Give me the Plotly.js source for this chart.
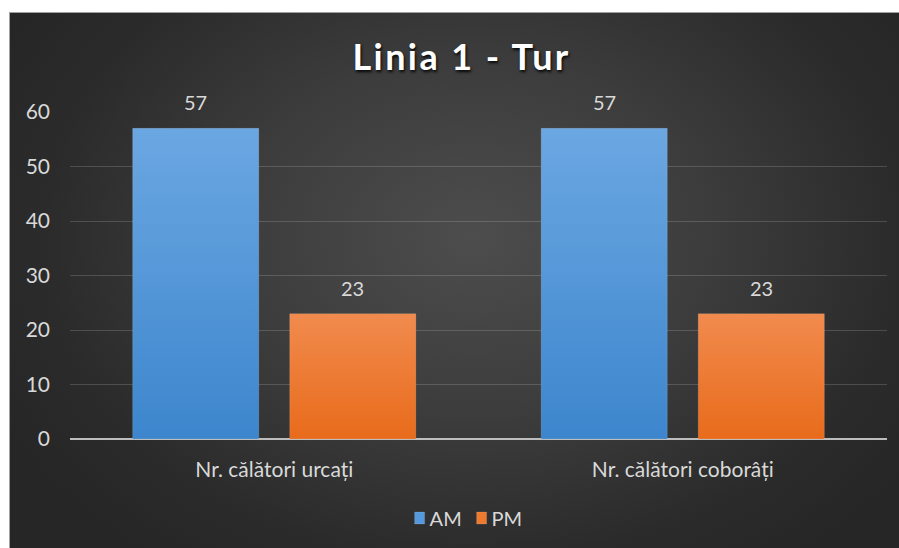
<!DOCTYPE html>
<html>
<head>
<meta charset="utf-8">
<script src="https://cdn.plot.ly/plotly-3.0.1.min.js"></script>
<style>
  html, body { margin: 0; padding: 0; background: #ffffff; width: 899px; height: 548px; overflow: hidden; }
  #frame {
    position: absolute; left: 9px; top: 12px; width: 890px; height: 536px;
    background: #a0a0a0;
  }
  #chart {
    position: absolute; left: 1px; top: 1px; width: 889px; height: 535px;
    background: radial-gradient(ellipse 60% 75% at 52% 42%, #4d4d4d 0%, #3c3c3c 45%, #2b2b2b 80%, #262626 100%);
  }
  .gtitle { letter-spacing: 2.4px; }
</style>
</head>
<body>
<div id="frame"><div id="chart"></div></div>
<script>
// ---- data ----
const categories = ["Nr. călători urcați", "Nr. călători coborâți"];
const seriesNames = ["AM", "PM"];
const amValues = [57, 57];
const pmValues = [23, 23];
const yTicks = [0, 10, 20, 30, 40, 50, 60];
const titleText = "Linia 1 - Tur";

// ---- styling ----
const FONT = "Lato, 'Open Sans', sans-serif";
const txt = "#d9d9d9";
const bargap = 0.231;
const bargroupgap = 0.197;

const traces = [
  { type: "bar", name: seriesNames[0], x: [0, 1], y: amValues,
    marker: { color: "#5599dc", line: { color: "rgba(255,255,255,0.12)", width: 1 } },
    hoverinfo: "skip" },
  { type: "bar", name: seriesNames[1], x: [0, 1], y: pmValues,
    marker: { color: "#ee7a2f", line: { color: "rgba(255,255,255,0.12)", width: 1 } },
    hoverinfo: "skip" }
];

// data labels above bars, positioned from the same values
const slot = (1 - bargap) / 2;
const annotations = [];
[amValues, pmValues].forEach((vals, si) => {
  vals.forEach((v, ci) => {
    annotations.push({
      x: ci + (si - 0.5) * slot, y: v, xref: "x", yref: "y",
      text: String(v), showarrow: false, yanchor: "middle", yshift: 26,
      font: { family: FONT, size: 20, color: txt }
    });
  });
});

const layout = {
  width: 889, height: 535,
  paper_bgcolor: "rgba(0,0,0,0)",
  plot_bgcolor: "rgba(0,0,0,0)",
  margin: { l: 60, r: 12, t: 99, b: 109 },
  font: { family: FONT, color: txt, size: 20 },
  title: {
    text: "<b>" + titleText + "</b>",
    font: { family: FONT, size: 36, color: "#ffffff", shadow: "1px 2px 3px rgba(0,0,0,0.9)" },
    x: 0.508, xanchor: "center", xref: "container",
    y: 1 - 44 / 535, yanchor: "middle", yref: "container"
  },
  xaxis: {
    type: "linear", range: [-0.5, 1.5],
    tickvals: [0, 1], ticktext: categories,
    showgrid: false, zeroline: false, showline: false, ticks: "",
    tickfont: { family: FONT, size: 21, color: txt },
    ticklabelstandoff: 16,
    fixedrange: true
  },
  yaxis: {
    range: [0, 60], tickvals: yTicks, ticktext: yTicks.map(String),
    showgrid: true, gridcolor: "rgba(255,255,255,0.16)", gridwidth: 1,
    zeroline: true, zerolinecolor: "#bdbdbd", zerolinewidth: 2,
    showline: false, ticks: "",
    tickfont: { family: FONT, size: 21, color: txt },
    ticklabelstandoff: 19,
    fixedrange: true
  },
  barmode: "group", bargap: bargap, bargroupgap: bargroupgap,
  showlegend: true,
  legend: {
    orientation: "h", xref: "container", yref: "container",
    x: 0.508, xanchor: "center", y: 1 - 505 / 535, yanchor: "middle",
    font: { family: FONT, size: 20, color: txt },
    bgcolor: "rgba(0,0,0,0)", itemwidth: 30, entrywidth: 17, tracegroupgap: 0
  },
  annotations: annotations
};

Plotly.newPlot("chart", traces, layout, { displayModeBar: false, staticPlot: true }).then(gd => {
  const svg = gd.querySelector("svg.main-svg");
  const ns = "http://www.w3.org/2000/svg";
  const defs = document.createElementNS(ns, "defs");
  const mk = (id, c1, c2) => {
    const g = document.createElementNS(ns, "linearGradient");
    g.setAttribute("id", id); g.setAttribute("x1", "0"); g.setAttribute("y1", "0");
    g.setAttribute("x2", "0"); g.setAttribute("y2", "1");
    [[0, c1], [1, c2]].forEach(([o, c]) => {
      const s = document.createElementNS(ns, "stop");
      s.setAttribute("offset", o); s.setAttribute("stop-color", c);
      g.appendChild(s);
    });
    defs.appendChild(g);
  };
  mk("gradAM", "#6ba7e2", "#3d86cd");
  mk("gradPM", "#f18b4e", "#e86b1b");
  svg.insertBefore(defs, svg.firstChild);
  gd.querySelectorAll(".barlayer .trace").forEach((tg, i) => {
    tg.querySelectorAll(".point path").forEach(p => {
      p.style.fill = i === 0 ? "url(#gradAM)" : "url(#gradPM)";
    });
  });
  // tighten legend: smaller square, text closer to it
  gd.querySelectorAll(".legend .traces").forEach(tr => {
    const t = tr.querySelector(".legendtext");
    if (t) t.setAttribute("x", 30);
    tr.querySelectorAll(".legendpoints path").forEach(p => {
      p.setAttribute("d", "M5,6H-5V-6H5Z");
    });
  });
});
</script>
</body>
</html>
